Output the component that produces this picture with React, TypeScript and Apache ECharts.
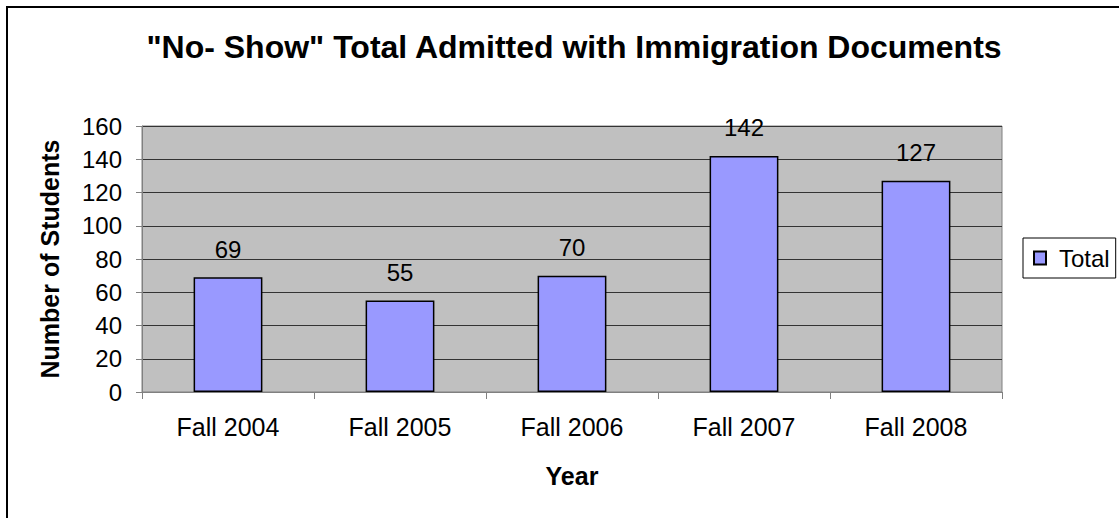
import React, { useEffect, useRef } from "react";
import * as echarts from "echarts";

const categories = ["Fall 2004", "Fall 2005", "Fall 2006", "Fall 2007", "Fall 2008"];
const totals = [69, 55, 70, 142, 127];
const seriesName = "Total";
const titleText = "\"No- Show\" Total Admitted with Immigration Documents";
const xName = "Year";
const yName = "Number of Students";

const FONT = "'Liberation Sans', Arial, sans-serif";

export default function App() {
  const ref = useRef<HTMLDivElement>(null);
  useEffect(() => {
    if (!ref.current) return;
    const chart = echarts.init(ref.current, undefined, { renderer: "svg" });
    chart.setOption({
      animation: false,
      backgroundColor: "#ffffff",
      textStyle: { fontFamily: FONT },
      title: {
        text: titleText,
        left: 569,
        top: 26,
        textAlign: "center",
        textStyle: { fontFamily: FONT, fontSize: 32, fontWeight: "bold", color: "#000" },
      },
      graphic: [
        {
          type: "rect",
          shape: { x: 7, y: 7, width: 1200, height: 600 },
          style: { fill: "none", stroke: "#000", lineWidth: 2 },
          silent: true,
          z: -1,
        },
      ],
      legend: {
        data: [seriesName],
        left: 1023,
        top: 238,
        orient: "vertical",
        borderColor: "#000",
        borderWidth: 1,
        padding: [8, 6, 8, 10],
        itemWidth: 12,
        itemHeight: 13,
        itemGap: 0,
        icon: "rect",
        textStyle: { fontFamily: FONT, fontSize: 24, color: "#000", padding: [0, 0, 0, 8] },
      },
      grid: {
        left: 142,
        top: 126,
        right: 117,
        bottom: 126,
        show: true,
        backgroundColor: "#C0C0C0",
        borderColor: "#808080",
        borderWidth: 1,
      },
      xAxis: {
        type: "category",
        data: categories,
        name: xName,
        nameLocation: "middle",
        nameGap: 71,
        nameTextStyle: { fontFamily: FONT, fontSize: 25, fontWeight: "bold", color: "#000" },
        axisLine: { show: true, lineStyle: { color: "#808080", width: 1 } },
        axisTick: { show: true, interval: 0, alignWithLabel: false, length: 7, lineStyle: { color: "#808080" } },
        axisLabel: { fontFamily: FONT, fontSize: 25, color: "#000", margin: 22, interval: 0 },
        splitLine: { show: false },
      },
      yAxis: {
        type: "value",
        min: 0,
        max: 160,
        interval: 20,
        name: yName,
        nameLocation: "middle",
        nameGap: 80,
        nameRotate: 90,
        nameTextStyle: { fontFamily: FONT, fontSize: 25, fontWeight: "bold", color: "#000" },
        axisLine: { show: true, lineStyle: { color: "#808080", width: 1 } },
        axisTick: { show: true, inside: false, length: 6, lineStyle: { color: "#808080" } },
        axisLabel: { fontFamily: FONT, fontSize: 24, color: "#000", margin: 20 },
        splitLine: { show: true, lineStyle: { color: "#333333", width: 1 } },
      },
      series: [
        {
          name: seriesName,
          type: "bar",
          data: totals,
          barWidth: "40%",
          itemStyle: { color: "#9999FF", borderColor: "#000", borderWidth: 1.5 },
          label: {
            show: true,
            position: "top",
            distance: 16,
            fontFamily: FONT,
            fontSize: 24,
            color: "#000",
          },
        },
      ],
    });
    return () => chart.dispose();
  }, []);
  return (
    <div
      ref={ref}
      style={{ position: "fixed", left: 0, top: 0, width: 1119, height: 518 }}
    />
  );
}
